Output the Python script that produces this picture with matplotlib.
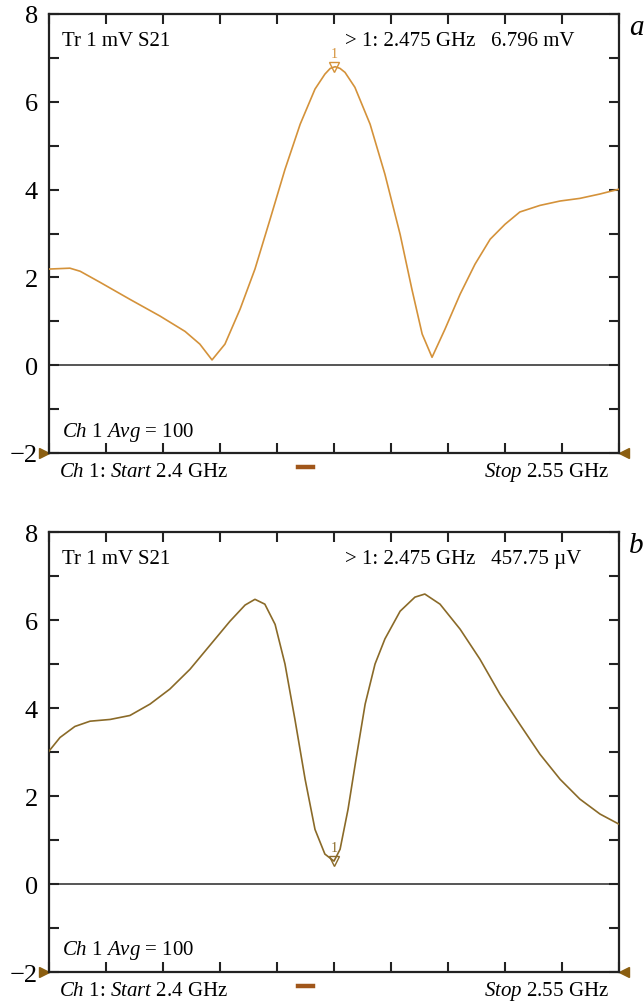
import matplotlib
matplotlib.use("Agg")
import matplotlib.pyplot as plt
from matplotlib.lines import Line2D

plt.rcParams["font.family"] = ["Liberation Serif", "DejaVu Serif"]
plt.rcParams["mathtext.fontset"] = "custom"
plt.rcParams["mathtext.rm"] = "Liberation Serif"
plt.rcParams["mathtext.it"] = "Liberation Serif:italic"

# --- data (GHz, mV) ---
freq_a = [2.4000, 2.4055, 2.4082, 2.4134, 2.4213, 2.4292, 2.4358, 2.4397, 2.4429,
          2.4463, 2.4503, 2.4542, 2.4582, 2.4621, 2.4661, 2.4700, 2.4726, 2.4740,
          2.4753, 2.4766, 2.4779, 2.4805, 2.4845, 2.4884, 2.4924, 2.4955, 2.4982,
          2.5008, 2.5042, 2.5082, 2.5121, 2.5161, 2.5200, 2.5239, 2.5292, 2.5345,
          2.5397, 2.5450, 2.5500]
mv_a = [2.19, 2.21, 2.14, 1.89, 1.50, 1.12, 0.77, 0.48, 0.12,
        0.48, 1.28, 2.19, 3.33, 4.46, 5.49, 6.29, 6.63, 6.76,
        6.80, 6.76, 6.67, 6.33, 5.49, 4.35, 2.98, 1.73, 0.71,
        0.18, 0.82, 1.62, 2.30, 2.87, 3.21, 3.49, 3.64, 3.74,
        3.80, 3.90, 4.01]

freq_b = [2.4000, 2.4029, 2.4068, 2.4108, 2.4161, 2.4213, 2.4266, 2.4318, 2.4371,
          2.4424, 2.4476, 2.4516, 2.4542, 2.4568, 2.4595, 2.4621, 2.4647, 2.4674,
          2.4700, 2.4726, 2.4750, 2.4766, 2.4787, 2.4808, 2.4832, 2.4858, 2.4884,
          2.4924, 2.4963, 2.4989, 2.5029, 2.5082, 2.5134, 2.5187, 2.5239, 2.5292,
          2.5345, 2.5397, 2.5450, 2.5500]
mv_b = [3.02, 3.33, 3.58, 3.70, 3.74, 3.83, 4.09, 4.43, 4.88,
        5.43, 5.97, 6.34, 6.47, 6.36, 5.90, 5.00, 3.75, 2.38,
        1.24, 0.68, 0.52, 0.79, 1.70, 2.84, 4.09, 5.00, 5.57,
        6.20, 6.52, 6.59, 6.36, 5.79, 5.11, 4.31, 3.63, 2.95,
        2.38, 1.93, 1.59, 1.36]

marker_f = 2.475
marker_a = 6.796
marker_b = 0.52
panels = [
    ("a", freq_a, mv_a, marker_a, "> 1: 2.475 GHz   6.796 mV", "#d4923a"),
    ("b", freq_b, mv_b, marker_b, "> 1: 2.475 GHz   457.75 \u00b5V", "#8a6a28"),
]

W, H = 644, 1003
fig = plt.figure(figsize=(W / 100, H / 100), dpi=100)

frame_col = "#222222"
brown = "#8b5e10"
fs = 15

boxes = [(49, 15, 619, 454), (49, 533, 619, 973)]  # pixel boxes l, t, r, b

for (label, fx, fy, mk, mtext, col), (l, t, r, b) in zip(panels, boxes):
    ax = fig.add_axes([l / W, 1 - b / H, (r - l) / W, (b - t) / H])
    ax.set_xlim(2.4, 2.55)
    ax.set_ylim(-2, 8)

    ax.axhline(0, color="#555555", lw=1.4, zorder=1)
    ax.plot(fx, fy, color=col, lw=1.2, zorder=3)

    # marker 1
    ax.plot([marker_f], [mk], marker="v", ms=7, mfc="none", mec=col, mew=1.0,
            ls="none", zorder=4)
    ax.annotate("1", (marker_f, mk), xytext=(0, 5), textcoords="offset points",
                ha="center", va="bottom", fontsize=10, color=col)

    # ticks
    ax.set_xticks([2.4 + 0.015 * k for k in range(11)])
    ax.set_xticklabels([])
    ax.set_yticks(range(-2, 9))
    ax.set_yticklabels([str(v).replace("-", "\u2212") if v % 2 == 0 else "" for v in range(-2, 9)],
                       fontsize=19)
    ax.tick_params(axis="both", direction="in", length=7, width=1.5, color=frame_col,
                   top=True, right=True, bottom=True, left=True, pad=6)
    ax.tick_params(axis="y", pad=8)
    for s in ax.spines.values():
        s.set_linewidth(1.6)
        s.set_color(frame_col)

    # annotation texts inside / below the frame
    ax.text(0.022, 0.94, "Tr 1 mV S21", transform=ax.transAxes, fontsize=fs,
            ha="left", va="center")
    ax.text(0.52, 0.94, mtext, transform=ax.transAxes, fontsize=fs,
            ha="left", va="center")
    ax.text(0.022, 0.05, r"$Ch$ 1 $Avg$ = 100", transform=ax.transAxes, fontsize=fs,
            ha="left", va="center")
    ax.text(0.018, -0.042, r"$Ch$ 1: $Start$ 2.4 GHz", transform=ax.transAxes,
            fontsize=fs, ha="left", va="center")
    ax.text(0.982, -0.042, r"$Stop$ 2.55 GHz", transform=ax.transAxes,
            fontsize=fs, ha="right", va="center")
    ax.text(1.03, 0.97, label, transform=ax.transAxes, fontsize=21,
            style="italic", ha="center", va="center")

    # reference-level triangles and small dash
    ax.plot([-0.009], [0], marker=">", ms=7, color=brown, transform=ax.transAxes,
            clip_on=False, ls="none")
    ax.plot([1.009], [0], marker="<", ms=7, color=brown, transform=ax.transAxes,
            clip_on=False, ls="none")
    fig.add_artist(Line2D([298 / W, 313 / W], [1 - (b + 14) / H] * 2, color="#a0561a",
                          lw=3.2))

fig.savefig("out.png", dpi=100)
